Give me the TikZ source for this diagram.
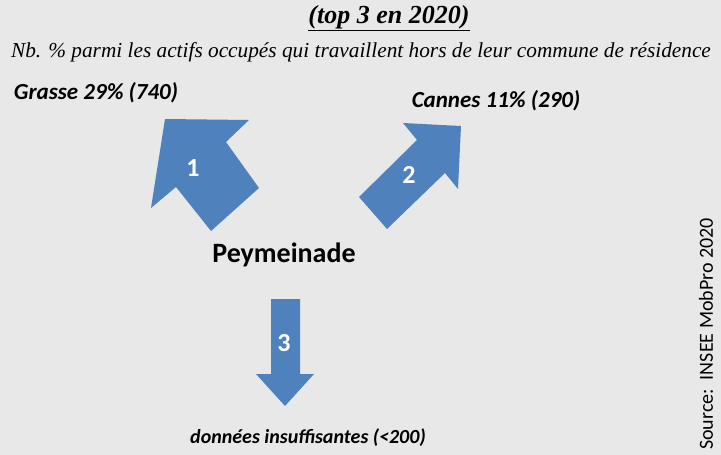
\documentclass[tikz,border=0pt]{standalone}
\usepackage{fontspec}
\setmainfont{Liberation Serif}
\setsansfont{Carlito}
\definecolor{bgc}{HTML}{E8E8E8}
\definecolor{arrowc}{HTML}{4F81BD}
\begin{document}
\begin{tikzpicture}[x=1pt,y=-1pt,
  bigarrow/.style={fill=arrowc,draw=none},
  numlbl/.style={text=white,font=\sffamily\bfseries\fontsize{26}{26}\selectfont,inner sep=0pt},
  citylbl/.style={font=\sffamily\bfseries\itshape\fontsize{23}{23}\selectfont,inner sep=0pt}]
\fill[bgc] (0,0) rectangle (721,455);
\useasboundingbox (0,0) rectangle (721,455);
\node[inner sep=0pt,font=\bfseries\itshape\fontsize{26}{26}\selectfont] (title) at (389,18) {\underline{(top 3 en 2020)}};
\node[inner sep=0pt,font=\itshape\fontsize{21.3}{21.3}\selectfont] (sub) at (361,52) {Nb. \% parmi les actifs occupés qui travaillent hors de leur commune de résidence};
\node[citylbl] (grasse) at (96,93) {Grasse 29\% (740)};
\node[citylbl] (cannes) at (496,101) {Cannes 11\% (290)};
\node[citylbl,font=\sffamily\bfseries\itshape\fontsize{20}{20}\selectfont] (autres) at (308,438) {données insuffisantes (<200)};
\node[inner sep=0pt,font=\sffamily\bfseries\fontsize{28}{28}\selectfont] (pey) at (284,255) {Peymeinade};
\node[inner sep=0pt,rotate=90,font=\sffamily\fontsize{20}{20}\selectfont] (src) at (706,334) {Source:\ \ INSEE MobPro 2020};
\fill[bigarrow] (165,119) -- (249,120) -- (226,142) -- (259,188) -- (211,231) -- (176,187) -- (151,208) -- cycle;
\fill[bigarrow] (403,123) -- (461,126) -- (458,189) -- (445,173) -- (387,229) -- (359,197) -- (417,140) -- cycle;
\fill[bigarrow] (271,299) -- (300,299) -- (300,374) -- (314,374) -- (285,406) -- (256,374) -- (271,374) -- cycle;
\node[numlbl] (n1) at (193,168) {1};
\node[numlbl] (n2) at (409,175) {2};
\node[numlbl] (n3) at (284,343) {3};
\end{tikzpicture}
\end{document}
